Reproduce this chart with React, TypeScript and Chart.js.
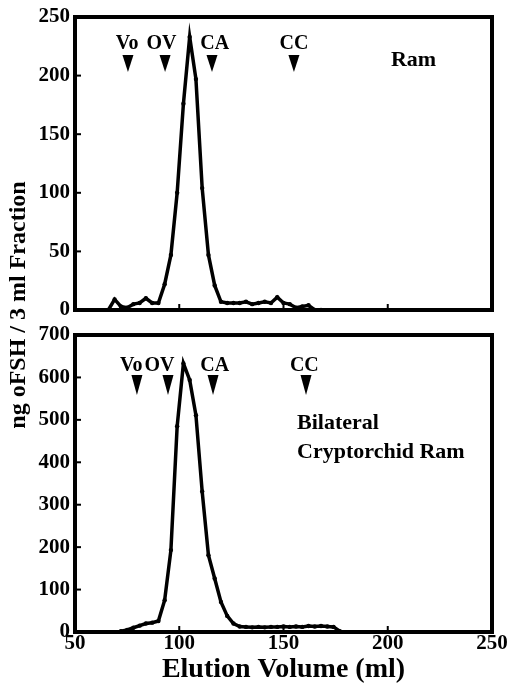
import React, { useEffect, useRef } from "react";
import { Chart, registerables } from "chart.js";

Chart.register(...registerables);

// ---- Data (Elution volume in ml, ng oFSH per 3 ml fraction) ----
const topVolumes = [66, 69, 72, 75, 78, 81, 84, 87, 90, 93, 96, 99, 102, 105, 108, 111, 114, 117, 120, 123, 126, 129, 132, 135, 138, 141, 144, 147, 150, 153, 156, 159, 162, 165, 168];
const topFsh = [0, 9, 3, 2, 5, 6, 10, 6, 6, 22, 47, 100, 176, 233, 197, 104, 47, 21, 7, 6, 6, 6, 7, 5, 6, 7, 6, 11, 6, 5, 2, 3, 4, 0, 0];

const bottomVolumes = [72, 75, 78, 81, 84, 87, 90, 93, 96, 99, 102, 105, 108, 111, 114, 117, 120, 123, 126, 129, 132, 135, 138, 141, 144, 147, 150, 153, 156, 159, 162, 165, 168, 171, 174, 177];
const bottomFsh = [2, 5, 10, 15, 20, 22, 26, 75, 193, 485, 633, 594, 511, 331, 181, 126, 71, 38, 20, 13, 12, 11, 12, 11, 12, 12, 13, 12, 13, 12, 14, 13, 14, 13, 12, 2];

const markerLabels = ["Vo", "OV", "CA", "CC"];
const topMarkerVolumes = [75.4, 93.2, 115.7, 155];
const topLabelVolumes = [75, 91.5, 117, 155];
const bottomMarkerVolumes = [79.7, 94.6, 116.2, 160.8];
const bottomLabelVolumes = [77, 90.5, 117, 160];

const xTicks = [50, 100, 150, 200, 250];
const topYTicks = [0, 50, 100, 150, 200, 250];
const bottomYTicks = [0, 100, 200, 300, 400, 500, 600, 700];

const topPanelText = ["Ram"];
const topPanelTextVolume = 201.5;
const bottomPanelText = ["Bilateral", "Cryptorchid Ram"];
const bottomPanelTextVolume = 156.5;

const yTitle = "ng oFSH / 3 ml Fraction";
const xTitle = "Elution Volume (ml)";

const SERIF = '"Liberation Serif", "Times New Roman", Times, serif';

type PanelCfg = {
  markers: number[];
  labels: number[];
  labelDy: number;
  triTopDy: number;
  triTipDy: number;
  textVolume: number;
  text: string[];
  textDy: number;
  textLineGap: number;
  drawYTitle: boolean;
};

function decorPlugin(cfg: PanelCfg) {
  return {
    id: "panelDecor",
    afterDraw(chart: any) {
      const { ctx, chartArea: a, scales } = chart;
      const xs = scales.x;
      const ys = scales.y;
      ctx.save();
      ctx.strokeStyle = "#000";
      ctx.fillStyle = "#000";
      // inner tick marks
      ctx.lineWidth = 2;
      for (const v of xTicks) {
        const px = xs.getPixelForValue(v);
        ctx.beginPath();
        ctx.moveTo(px, a.bottom);
        ctx.lineTo(px, a.bottom - 6);
        ctx.stroke();
      }
      for (const t of ys.ticks) {
        const py = ys.getPixelForValue(t.value);
        ctx.beginPath();
        ctx.moveTo(a.left, py);
        ctx.lineTo(a.left + 6, py);
        ctx.stroke();
      }
      // frame
      ctx.lineWidth = 4;
      ctx.strokeRect(a.left, a.top, a.right - a.left, a.bottom - a.top);

      // markers
      ctx.font = `bold 20px ${SERIF}`;
      ctx.textAlign = "center";
      ctx.textBaseline = "middle";
      cfg.markers.forEach((m, i) => {
        const px = xs.getPixelForValue(m);
        const top = a.top + cfg.triTopDy;
        const tip = a.top + cfg.triTipDy;
        ctx.beginPath();
        ctx.moveTo(px - 5.5, top);
        ctx.lineTo(px + 5.5, top);
        ctx.lineTo(px, tip);
        ctx.closePath();
        ctx.fill();
        const lx = xs.getPixelForValue(cfg.labels[i]);
        ctx.fillText(markerLabels[i], lx, a.top + cfg.labelDy);
      });

      // panel text
      ctx.font = `bold 22px ${SERIF}`;
      ctx.textAlign = "left";
      const tx = xs.getPixelForValue(cfg.textVolume);
      cfg.text.forEach((line, i) => {
        ctx.fillText(line, tx, a.top + cfg.textDy + i * cfg.textLineGap);
      });

      if (cfg.drawYTitle) {
        ctx.save();
        ctx.translate(19, 305);
        ctx.rotate(-Math.PI / 2);
        ctx.font = `bold 24px ${SERIF}`;
        ctx.textAlign = "center";
        ctx.textBaseline = "middle";
        ctx.fillText(yTitle, 0, 0);
        ctx.restore();
      }
      ctx.restore();
    },
  };
}

function makeChart(
  canvas: HTMLCanvasElement,
  volumes: number[],
  values: number[],
  yMax: number,
  yStep: number,
  padding: any,
  showX: boolean,
  cfg: PanelCfg
) {
  const tickFont = { family: SERIF, size: 21, weight: "bold" as const, lineHeight: 1 };
  return new Chart(canvas, {
    type: "line",
    data: {
      datasets: [
        {
          data: volumes.map((v, i) => ({ x: v, y: values[i] })),
          borderColor: "#000",
          backgroundColor: "#000",
          borderWidth: 3.5,
          pointRadius: 2.2,
          pointBackgroundColor: "#000",
          pointBorderWidth: 0,
          tension: 0,
          fill: false,
        },
      ],
    },
    options: {
      responsive: false,
      animation: false,
      layout: { padding },
      plugins: { legend: { display: false }, tooltip: { enabled: false } },
      scales: {
        x: {
          type: "linear",
          min: 50,
          max: 250,
          display: showX,
          grid: { display: false, drawTicks: false },
          border: { display: false },
          ticks: {
            stepSize: 50,
            autoSkip: false,
            maxRotation: 0,
            padding: 1,
            color: "#000",
            font: tickFont,
          },
          title: {
            display: showX,
            text: xTitle,
            color: "#000",
            font: { family: SERIF, size: 28, weight: "bold", lineHeight: 1 },
            padding: { top: 0, bottom: 1 },
          },
          afterFit: (s: any) => {
            if (showX) s.height = 53;
            s.paddingLeft = 0;
            s.paddingRight = 0;
          },
        },
        y: {
          type: "linear",
          min: 0,
          max: yMax,
          grid: { display: false, drawTicks: false },
          border: { display: false },
          ticks: {
            stepSize: yStep,
            padding: 5,
            color: "#000",
            font: tickFont,
          },
          afterFit: (s: any) => {
            s.width = 75;
            s.paddingTop = 0;
            s.paddingBottom = 0;
          },
        },
      },
    },
    plugins: [decorPlugin(cfg)],
  });
}

export default function App() {
  const topRef = useRef<HTMLCanvasElement>(null);
  const botRef = useRef<HTMLCanvasElement>(null);

  useEffect(() => {
    const top = makeChart(
      topRef.current!,
      topVolumes,
      topFsh,
      topYTicks[topYTicks.length - 1],
      topYTicks[1] - topYTicks[0],
      { left: 0, top: 17, right: 16, bottom: 375 },
      false,
      {
        markers: topMarkerVolumes,
        labels: topLabelVolumes,
        labelDy: 27,
        triTopDy: 38,
        triTipDy: 55,
        textVolume: topPanelTextVolume,
        text: topPanelText,
        textDy: 43,
        textLineGap: 29,
        drawYTitle: true,
      }
    );
    const bot = makeChart(
      botRef.current!,
      bottomVolumes,
      bottomFsh,
      bottomYTicks[bottomYTicks.length - 1],
      bottomYTicks[1] - bottomYTicks[0],
      { left: 0, top: 335, right: 16, bottom: 0 },
      true,
      {
        markers: bottomMarkerVolumes,
        labels: bottomLabelVolumes,
        labelDy: 31,
        triTopDy: 40,
        triTipDy: 60,
        textVolume: bottomPanelTextVolume,
        text: bottomPanelText,
        textDy: 88,
        textLineGap: 29,
        drawYTitle: false,
      }
    );
    return () => {
      top.destroy();
      bot.destroy();
    };
  }, []);

  return (
    <div
      style={{
        position: "fixed",
        left: 0,
        top: 0,
        width: 508,
        height: 685,
        background: "#fff",
      }}
    >
      <canvas
        ref={botRef}
        width={508}
        height={685}
        style={{ position: "absolute", left: 0, top: 0 }}
      />
      <canvas
        ref={topRef}
        width={508}
        height={685}
        style={{ position: "absolute", left: 0, top: 0 }}
      />
    </div>
  );
}
